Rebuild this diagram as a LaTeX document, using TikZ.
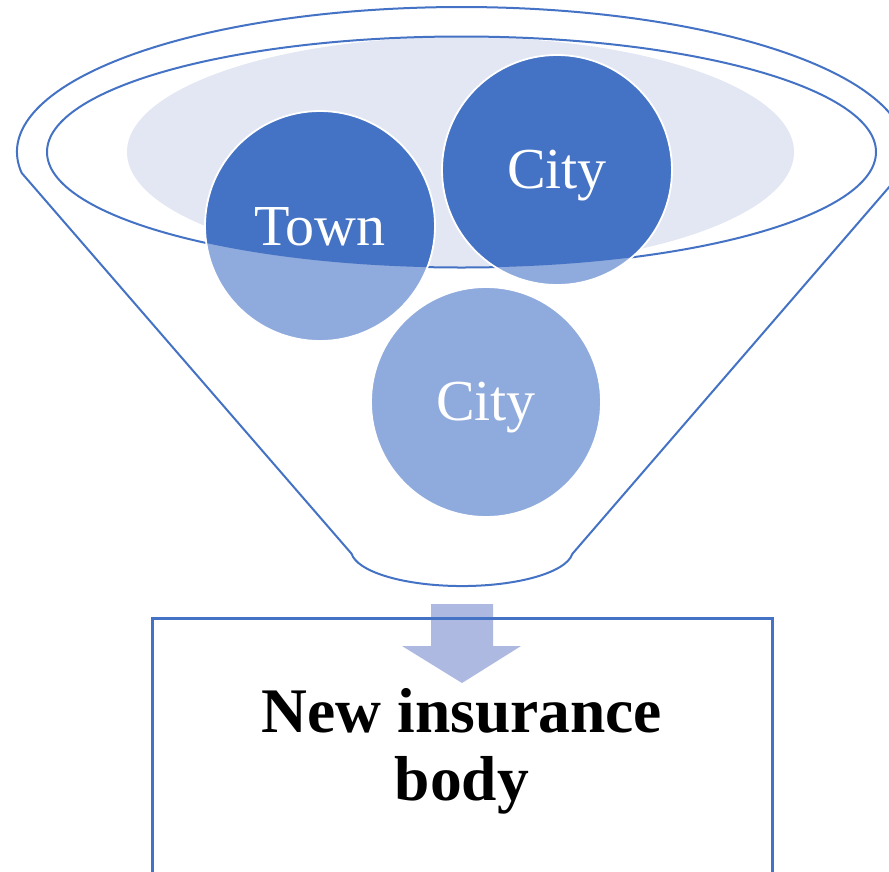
\documentclass[tikz,border=0pt]{standalone}
\usepackage{fontspec}
\setmainfont{Liberation Serif}
\definecolor{dkblue}{HTML}{4472C4}
\definecolor{ltblue}{HTML}{8FAADC}
\definecolor{paleblue}{HTML}{E3E7F3}
\definecolor{arrowblue}{HTML}{ADB9E1}
\begin{document}
\begin{tikzpicture}[x=1pt,y=1pt,
  outline/.style={draw=dkblue, line width=2pt},
  ballrim/.style={draw=white, line width=1.8pt},
  balltext/.style={text=white, font=\fontsize{58}{61}\selectfont, anchor=base, inner sep=0pt},
  boxtext/.style={text=black, font=\bfseries\fontsize{63.5}{68}\selectfont, align=center, inner sep=0pt},
  resultbox/.style={draw=dkblue, line width=3pt}]
\useasboundingbox (0,0) rectangle (889,-871);
\clip (0,0) rectangle (889,-871);
% pale fill inside the mouth
\fill[paleblue] (460.5,-152) ellipse [x radius=333.5, y radius=115];
% inner rim
\draw[outline] (461.5,-152) ellipse [x radius=414.5, y radius=115.5];
% funnel outline
\draw[outline] (21.66,-172.93) arc[start angle=188.3, end angle=-8.3, x radius=444.5, y radius=145]
  -- (572.4,-553.8) arc[start angle=-6, end angle=-174, x radius=111, y radius=36] -- cycle;
% balls
\foreach \cx/\cy in {320/-226, 557/-170, 486/-402}{
  \fill[ltblue] (\cx,\cy) circle[radius=115];
  \begin{scope}
    \clip (461.5,-152) ellipse [x radius=414.5, y radius=115.5];
    \fill[dkblue] (\cx,\cy) circle[radius=115];
  \end{scope}
  \draw[ballrim] (\cx,\cy) circle[radius=115];
}
\node[balltext] (town) at (320,-245) {Town};
\node[balltext] (city1) at (557,-188) {City};
\node[balltext] (city2) at (486,-420) {City};
% arrow
\fill[arrowblue] (431,-604) -- (493,-604) -- (493,-646) -- (521,-646) -- (462,-683)
  -- (402,-646) -- (431,-646) -- cycle;
% result box
\draw[resultbox] (152,-618) rectangle (772,-900);
\node[boxtext] (result) at (462,-751) {New insurance\\body};
\end{tikzpicture}
\end{document}
